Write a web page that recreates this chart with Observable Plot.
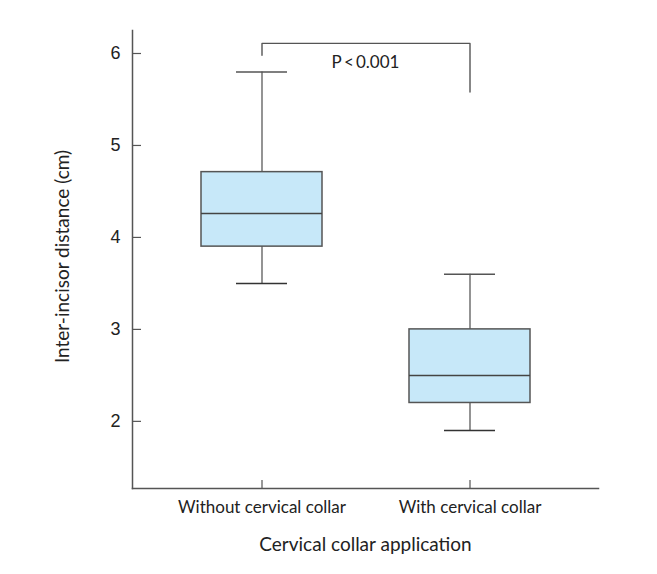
<!DOCTYPE html>
<html><head><meta charset="utf-8">
<script src="https://cdn.jsdelivr.net/npm/d3@7"></script>
<script src="https://cdn.jsdelivr.net/npm/@observablehq/plot@0.6"></script>
<style>body{margin:0;background:#fff}</style>
</head><body><div id="chart"></div>
<script>
const groups = ["Without cervical collar", "With cervical collar"];
const whiskerLow = [3.5, 1.9];
const q1 = [3.9, 2.2];
const median = [4.26, 2.5];
const q3 = [4.71, 3.0];
const whiskerHigh = [5.8, 3.6];
const yTicks = [2, 3, 4, 5, 6];
const bracketGroups = [groups[0], groups[0], groups[1], groups[1]];
const bracketY = [5.98, 6.11, 6.11, 5.58];
const pLabel = "P\u2009<\u20090.001";
const pLabelY = [5.9];
const yLabel = "Inter-incisor distance (cm)";
const xLabel = "Cervical collar application";

const boxes = groups.map((g, i) => ({group: g, lo: whiskerLow[i], q1: q1[i], med: median[i], q3: q3[i], hi: whiskerHigh[i]}));
const bracket = bracketGroups.map((g, i) => ({group: g, y: bracketY[i]}));

const labelFont = "Lato, 'Open Sans', sans-serif";
const chart = Plot.plot({
  width: 657, height: 574,
  marginLeft: 132, marginRight: 59, marginTop: 30, marginBottom: 86,
  style: {fontFamily: labelFont, fontSize: "17px", color: "#222", background: "white"},
  x: {type: "band", domain: groups, paddingInner: 0.42, paddingOuter: 0.33, label: null},
  y: {domain: [1.27, 6.25], label: null},
  marks: [
    Plot.frame({anchor: "left", stroke: "#555", strokeWidth: 1.5}),
    Plot.frame({anchor: "bottom", stroke: "#555", strokeWidth: 1.5}),
    Plot.axisY({ticks: yTicks, tickFormat: d3.format("d"), tickSize: -9, tickPadding: 21, fontFamily: "'Liberation Sans', Arial, sans-serif", fontSize: 18, fill: "#222", stroke: "#555", strokeWidth: 1.2, label: null}),
    Plot.axisX({tickSize: -8, tickPadding: 20, fontSize: 17, fill: "#222", stroke: "#555", strokeWidth: 1.2, label: null}),
    Plot.ruleX(boxes, {x: "group", y1: "q3", y2: "hi", stroke: "#666", strokeWidth: 1.4}),
    Plot.ruleX(boxes, {x: "group", y1: "lo", y2: "q1", stroke: "#666", strokeWidth: 1.4}),
    Plot.tickY(boxes, {x: "group", y: "hi", insetLeft: 35, insetRight: 35, stroke: "#555", strokeWidth: 1.5}),
    Plot.tickY(boxes, {x: "group", y: "lo", insetLeft: 35, insetRight: 35, stroke: "#333", strokeWidth: 1.5}),
    Plot.barY(boxes, {x: "group", y1: "q1", y2: "q3", fill: "#c7e8f9", stroke: "#555", strokeWidth: 1.5}),
    Plot.tickY(boxes, {x: "group", y: "med", stroke: "#444", strokeWidth: 1.5}),
    Plot.line(bracket, {x: "group", y: "y", stroke: "#555", strokeWidth: 1.4}),
    Plot.text([pLabel], {y: pLabelY, text: d => d, frameAnchor: "middle", fontSize: 17, fill: "#222"}),
    Plot.text([yLabel], {frameAnchor: "left", textAnchor: "middle", rotate: -90, dx: -70, dy: -3, text: d => d, fontSize: 19, fill: "#222"}),
    Plot.text([xLabel], {frameAnchor: "bottom", dy: 62, text: d => d, fontSize: 19, fill: "#222"})
  ]
});
document.getElementById("chart").append(chart);
</script>
</body></html>
